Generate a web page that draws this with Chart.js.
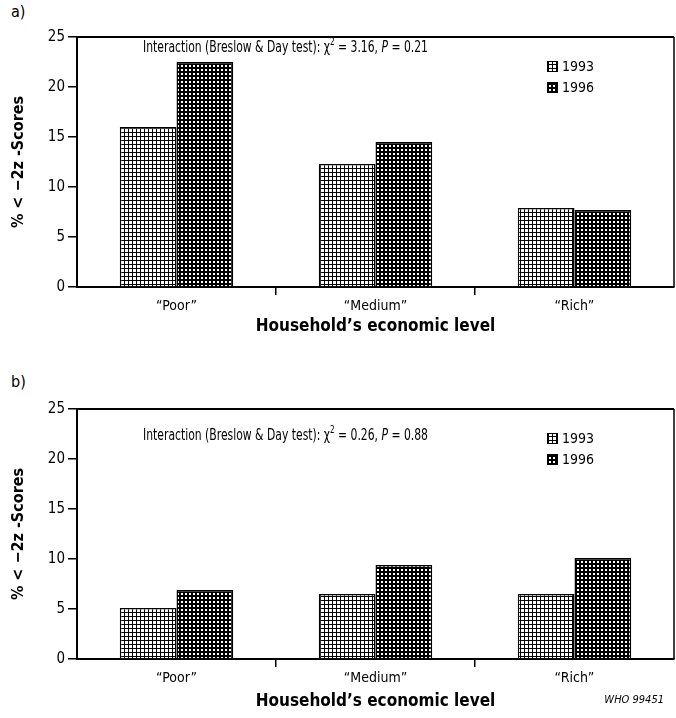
<!DOCTYPE html>
<html>
<head>
<meta charset="utf-8">
<script src="https://cdn.jsdelivr.net/npm/chart.js@4.4.1/dist/chart.umd.min.js"></script>
<style>
  html, body { margin: 0; padding: 0; background: #fff; }
  body { width: 676px; height: 718px; position: relative; overflow: hidden;
         font-family: "Liberation Sans Narrow", "DejaVu Sans Condensed", sans-serif; color: #000; }
  .panel { position: absolute; left: 0; }
  .lbl { position: absolute; font-size: 16px; }
  .who { position: absolute; font-size: 11px; font-style: italic; right: 12px; top: 693px; }
</style>
</head>
<body>
<div class="lbl" style="left:11px; top:2px;">a)</div>
<div class="lbl" style="left:11px; top:372px;">b)</div>
<canvas id="ca" class="panel" style="top:0px" width="676" height="345"></canvas>
<canvas id="cb" class="panel" style="top:360px" width="676" height="358"></canvas>
<div class="who">WHO 99451</div>
<script>
// ---- data ----
const categories = ['\u201CPoor\u201D', '\u201CMedium\u201D', '\u201CRich\u201D'];
const seriesLabels = ['1993', '1996'];
const panelA1993 = [16.0, 12.3, 7.9];
const panelA1996 = [22.5, 14.5, 7.7];
const panelB1993 = [5.1, 6.5, 6.5];
const panelB1996 = [6.9, 9.4, 10.1];
const chiSquare = ['3.16', '0.26'];
const pValues = ['0.21', '0.88'];
const yTitle = '% < \u22122z -Scores';
const xTitle = 'Household\u2019s economic level';
const yMax = 25, yStep = 5;

const FONT = '"Liberation Sans Narrow", "DejaVu Sans Condensed", sans-serif';

function makePattern(dark) {
  const c = document.createElement('canvas');
  c.width = 4; c.height = 4;
  const g = c.getContext('2d');
  if (dark) {
    g.fillStyle = '#000'; g.fillRect(0, 0, 4, 4);
    g.fillStyle = '#fff'; g.fillRect(1, 1, 2, 2);
  } else {
    g.fillStyle = '#fff'; g.fillRect(0, 0, 4, 4);
    g.fillStyle = '#000'; g.fillRect(0, 0, 4, 1); g.fillRect(0, 0, 1, 4);
  }
  return g.createPattern(c, 'repeat');
}

function makeChart(id, v1993, v1996, statIdx, textOffset, titleBottomPad) {
  const ctx = document.getElementById(id).getContext('2d');
  const patterns = [makePattern(false), makePattern(true)];
  const decor = {
    id: 'decor',
    afterDraw(chart) {
      const a = chart.chartArea;
      const g = chart.ctx;
      g.save();
      // frame top and right
      g.strokeStyle = '#000';
      g.lineWidth = 2;
      g.beginPath(); g.moveTo(a.left, a.top); g.lineTo(a.right, a.top); g.stroke();
      g.lineWidth = 1.5;
      g.beginPath(); g.moveTo(a.right, a.top); g.lineTo(a.right, a.bottom); g.stroke();
      // interaction text (condensed to the reference width)
      const parts = [
        ['Interaction (Breslow & Day test): \u03C7', '15px ' + FONT, 0],
        ['2', '10px ' + FONT, -6],
        [' = ' + chiSquare[statIdx] + ', ', '15px ' + FONT, 0],
        ['P', 'italic 15px ' + FONT, 0],
        [' = ' + pValues[statIdx], '15px ' + FONT, 0]
      ];
      let total = 0;
      parts.forEach(p => { g.font = p[1]; total += g.measureText(p[0]).width; });
      const sx = 285 / total;
      const y = a.top + textOffset;
      g.translate(143, y);
      g.scale(sx, 1);
      g.fillStyle = '#000';
      g.textBaseline = 'middle';
      let x = 0;
      parts.forEach(p => { g.font = p[1]; g.fillText(p[0], x, p[2]); x += g.measureText(p[0]).width; });
      g.setTransform(1, 0, 0, 1, 0, 0);
      // legend
      chart.data.datasets.forEach((ds, i) => {
        const ly = a.top + 30 + i * 21;
        g.fillStyle = ds.backgroundColor;
        g.fillRect(547, ly - 6, 11, 11);
        g.strokeStyle = '#000'; g.lineWidth = 1;
        g.strokeRect(547.5, ly - 5.5, 10, 10);
        g.fillStyle = '#000';
        g.font = '14px ' + FONT;
        g.textBaseline = 'middle';
        g.fillText(ds.label, 562, ly);
      });
      g.restore();
    }
  };
  return new Chart(ctx, {
    type: 'bar',
    data: {
      labels: categories,
      datasets: [
        { label: seriesLabels[0], data: v1993, backgroundColor: patterns[0], borderColor: '#000', borderWidth: 1.5 },
        { label: seriesLabels[1], data: v1996, backgroundColor: patterns[1], borderColor: '#000', borderWidth: 1.5 }
      ]
    },
    options: {
      responsive: false,
      animation: false,
      devicePixelRatio: 1,
      layout: { padding: { top: id === 'ca' ? 37 : 49, right: 2, left: 0, bottom: 0 } },
      plugins: { legend: { display: false }, tooltip: { enabled: false }, title: { display: false } },
      datasets: { bar: { categoryPercentage: 0.57, barPercentage: 1.0 } },
      scales: {
        x: {
          afterFit(s) { s.height = id === 'ca' ? 58 : 59; },
          grid: {
            display: true, drawOnChartArea: false, drawTicks: true, tickLength: 8, lineWidth: 1.5,
            color: (c) => (c.index === 1 || c.index === 2) ? '#000' : 'rgba(0,0,0,0)'
          },
          border: { display: true, color: '#000', width: 2 },
          ticks: { color: '#000', font: { family: FONT, size: 14 }, padding: 3 },
          title: { display: true, text: xTitle, color: '#000',
                   font: { family: FONT, size: 17, weight: 'bold' }, padding: { top: 0, bottom: titleBottomPad } }
        },
        y: {
          min: 0, max: yMax,
          afterFit(s) { s.width = 77; },
          grid: { display: true, drawOnChartArea: false, drawTicks: true, tickLength: 9, lineWidth: 1.5, color: '#000' },
          border: { display: true, color: '#000', width: 2 },
          ticks: { stepSize: yStep, color: '#000', font: { family: FONT, size: 15 }, padding: 3 },
          title: { display: true, text: yTitle, color: '#000',
                   font: { family: FONT, size: 16, weight: 'bold' }, padding: { top: 9, bottom: 0 } }
        }
      }
    },
    plugins: [decor]
  });
}

makeChart('ca', panelA1993, panelA1996, 0, 11, 8);
makeChart('cb', panelB1993, panelB1996, 1, 27, 6);
</script>
</body>
</html>
